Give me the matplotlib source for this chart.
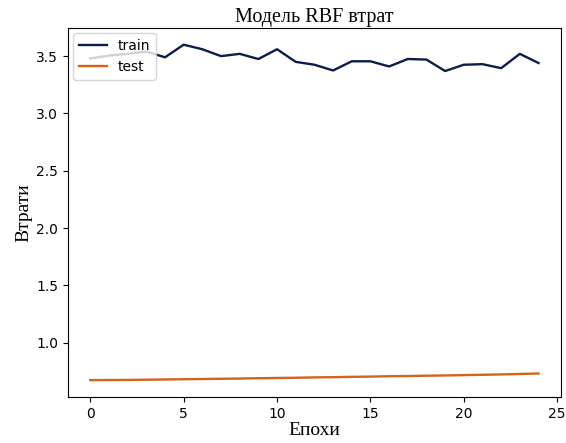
import numpy as np
import matplotlib.pyplot as plt

epochs = np.arange(25)
train_loss = [3.48, 3.505, 3.52, 3.54, 3.49, 3.60, 3.56, 3.50, 3.52, 3.475,
              3.56, 3.45, 3.425, 3.375, 3.455, 3.455, 3.41, 3.475, 3.47, 3.37,
              3.425, 3.43, 3.395, 3.52, 3.44]
test_loss = [0.672, 0.673, 0.674, 0.676, 0.678, 0.680, 0.682, 0.684, 0.686, 0.689,
             0.691, 0.693, 0.696, 0.698, 0.701, 0.703, 0.706, 0.708, 0.711, 0.713,
             0.716, 0.719, 0.722, 0.726, 0.730]

fig = plt.figure(figsize=(5.66, 4.43), dpi=100)
ax = fig.add_axes([0.12, 0.104, 0.871, 0.833])

ax.plot(epochs, train_loss, color='#0b1d4a', linewidth=1.7, label='train')
ax.plot(epochs, test_loss, color='#d4631c', linewidth=1.7, label='test')

serif = {'family': 'Liberation Serif'}
ax.set_title('Модель RBF втрат', fontdict=serif, fontsize=14.5, pad=4)
ax.set_xlabel('Епохи', fontdict=serif, fontsize=14, labelpad=1)
ax.set_ylabel('Втрати', fontdict=serif, fontsize=14, labelpad=3)
ax.legend(loc='upper left', borderaxespad=0.4)

fig.savefig('out.png', dpi=100)
